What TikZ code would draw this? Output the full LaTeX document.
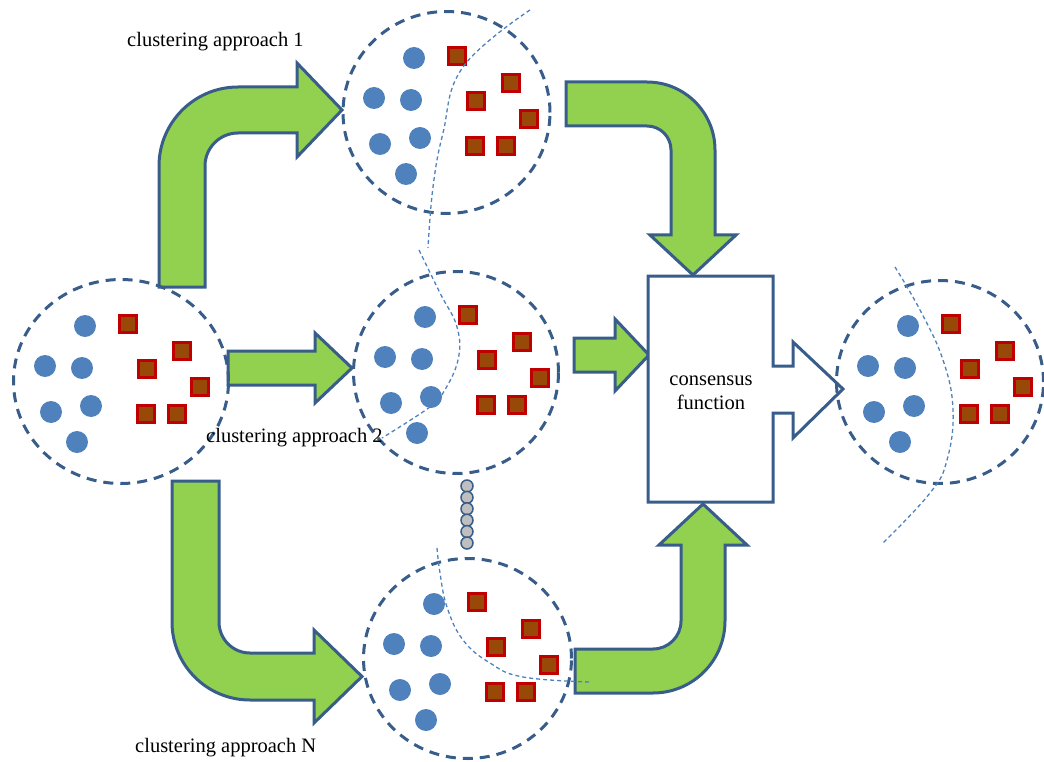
\documentclass[tikz,border=0pt]{standalone}
\usepackage{fontspec}
\setmainfont{Liberation Serif}
\usetikzlibrary{shapes.geometric}
\definecolor{outl}{RGB}{56,93,138}
\definecolor{arrgreen}{RGB}{146,208,80}
\definecolor{dotblue}{RGB}{79,129,189}
\definecolor{sqred}{RGB}{192,0,0}
\definecolor{sqbrown}{RGB}{152,72,7}
\definecolor{chaingray}{RGB}{191,191,191}
\tikzset{
  blockarrow/.style={fill=arrgreen, draw=outl, line width=3pt, line join=miter},
  clusterring/.style={ellipse, draw=outl, line width=3pt, dash pattern=on 10pt off 7pt, inner sep=0pt, outer sep=0pt},
  sqpt/.style={fill=sqbrown, draw=sqred, line width=3pt},
  seppath/.style={draw=dotblue, line width=1.3pt, dash pattern=on 4pt off 3pt},
  lbl/.style={font=\fontsize{20.5}{24.5}\selectfont, inner sep=0pt},
  chainpt/.style={circle, fill=chaingray, draw=outl, line width=1.5pt, minimum size=12pt, inner sep=0pt}
}
\newcommand{\clusterpts}[2]{%
  \begin{scope}[shift={(#1,#2)}]
    \foreach \dx/\dy in {0/0,-40/40,-3/42,-34/86,6/80,-8/116}
      \fill[dotblue] (\dx,\dy) circle[radius=11pt];
    \foreach \dx/\dy in {43/-2,97/25,62/43,115/61,61/88,92/88}
      \draw[sqpt] (\dx-8.5,\dy-8.5) rectangle (\dx+8.5,\dy+8.5);
  \end{scope}}
\begin{document}
\begin{tikzpicture}[x=1pt,y=-1pt]
\useasboundingbox (0,0) rectangle (1044,762);

% block arrows
\draw[blockarrow] (159,287) -- (159,166) .. controls (159,122.4) and (194.4,87) .. (238,87)
  -- (297,87) -- (297,63) -- (342,110) -- (297,157) -- (297,133) -- (238,133)
  .. controls (219.8,133) and (205,147.8) .. (205,166) -- (205,287) -- cycle;
\draw[blockarrow] (566,82) -- (647,82) .. controls (684.6,82) and (715,112.4) .. (715,150)
  -- (715,235) -- (736,235) -- (693,275) -- (650,235) -- (671,235) -- (671,150)
  .. controls (671,136.7) and (660.3,126) .. (647,126) -- (566,126) -- cycle;
\draw[blockarrow] (172,481) -- (172,622) .. controls (172,665.1) and (206.9,700) .. (250,700)
  -- (314,700) -- (314,723) -- (362,676.5) -- (314,630) -- (314,653) -- (250,653)
  .. controls (232.9,653) and (219,639.1) .. (219,622) -- (219,481) -- cycle;
\draw[blockarrow] (575,649) -- (653,649) .. controls (668.5,649) and (681,636.5) .. (681,621)
  -- (681,545) -- (659,545) -- (703,504) -- (747,545) -- (725,545) -- (725,621)
  .. controls (725,660.8) and (692.8,693) .. (653,693) -- (575,693) -- cycle;
\draw[blockarrow] (228,351) -- (315,351) -- (315,333) -- (352,368) -- (315,403) -- (315,385) -- (228,385) -- cycle;
\draw[blockarrow] (574,338) -- (615,338) -- (615,319) -- (649,355) -- (615,391) -- (615,372) -- (574,372) -- cycle;

% consensus function box with output arrow
\draw[fill=white, draw=outl, line width=3pt] (648,276) -- (773,276) -- (773,366) -- (793,366) -- (793,342)
  -- (843,389) -- (793,438) -- (793,413) -- (773,413) -- (773,502) -- (648,502) -- cycle;
\node[lbl, align=center] (cf) at (711,393) {consensus\\function};

% cluster rings
\node[clusterring, minimum width=215pt, minimum height=204pt] (c0) at (121,381.5) {};
\node[clusterring, minimum width=207pt, minimum height=202pt] (c1) at (446.5,112.5) {};
\node[clusterring, minimum width=205pt, minimum height=202pt] (c2) at (456,372.5) {};
\node[clusterring, minimum width=208pt, minimum height=200pt] (cn) at (467.5,658.5) {};
\node[clusterring, minimum width=207pt, minimum height=203pt] (cr) at (940,382) {};

% points
\clusterpts{85}{326}
\clusterpts{414}{58}
\clusterpts{425}{317}
\clusterpts{434}{604}
\clusterpts{908}{326}

% separating curves
\draw[seppath] plot[smooth, tension=0.7] coordinates {(530,10) (463,67) (443,133) (433,187) (428,248)};
\draw[seppath] plot[smooth, tension=0.7] coordinates {(419,250) (440,293) (457,327) (458,360) (443,393) (430,407) (382,438)};
\draw[seppath] plot[smooth, tension=0.7] coordinates {(437,548) (440,573) (447,607) (463,640) (490,663) (523,677) (590,682)};
\draw[seppath] plot[smooth, tension=0.7] coordinates {(895,267) (920,310) (943,360) (953,410) (947,460) (930,493) (883,543)};

% chain of dots
\foreach \i in {0,...,5}
  \node[chainpt] (ch\i) at (467,486+\i*11.4) {};

% labels
\node[lbl, anchor=base west] (l1) at (127,47) {clustering approach 1};
\node[lbl, anchor=base west] (l2) at (206,442) {clustering approach 2};
\node[lbl, anchor=base west] (ln) at (135,752) {clustering approach N};
\end{tikzpicture}
\end{document}
